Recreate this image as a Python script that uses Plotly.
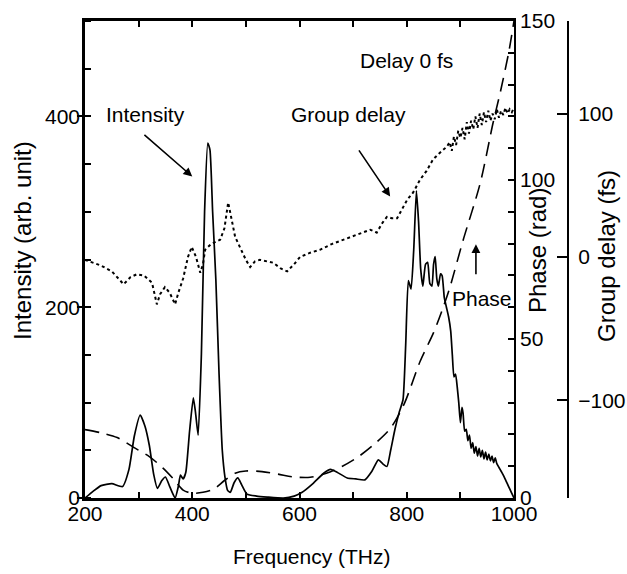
import plotly.graph_objects as go

# ---- data ----
int_freq = [200, 215, 230, 250, 270, 282, 292, 303, 312, 320, 328, 335, 343, 350, 358, 368,
            374, 378, 383, 388, 395, 402, 406, 411, 417, 423, 429, 433, 438, 444, 450, 456,
            461, 466, 471, 478, 485, 492, 502, 520, 540, 570, 590, 605, 625, 645, 658, 670,
            689, 705, 722, 735, 747, 755, 763, 770, 778, 786, 793, 798, 803, 808, 813, 818,
            822, 826, 830, 835, 839, 843, 847, 850, 853, 856, 859, 863, 866, 870, 874, 878,
            882, 885, 888, 891, 894, 897, 900, 903, 905, 908, 911, 914, 917, 920, 923, 926,
            929, 932, 935, 938, 941, 944, 947, 950, 953, 956, 959, 962, 965, 968, 972, 976,
            980, 985, 990, 995, 1000]
int_vals = [0, 7, 13, 15, 12, 30, 65, 87, 75, 55, 25, 10, 18, 22, 12, 0,
            12, 24, 20, 27, 70, 105, 90, 66, 150, 300, 372, 365, 300, 229, 130, 50,
            22, 8, 6, 16, 21, 14, 4, 2, 1, 0, 2, 6, 15, 26, 30, 27,
            21, 20, 19, 28, 40, 36, 33, 50, 72, 90, 103, 160, 228, 219, 260, 322,
            290, 240, 222, 245, 247, 225, 222, 245, 253, 230, 222, 235, 233, 210, 200, 190,
            175, 150, 127, 130, 117, 100, 79, 95, 89, 70, 72, 60, 66, 52, 58, 47,
            54, 44, 52, 43, 50, 41, 48, 40, 46, 39, 44, 37, 42, 36, 32, 28,
            24, 18, 12, 6, 0]

phase_freq = [200, 230, 260, 290, 320, 345, 365, 383, 400, 420, 440, 460, 480, 500, 530,
              560, 590, 620, 650, 680, 710, 740, 770, 795, 825, 850, 868, 880, 905, 937,
              961, 975, 990, 1000]
phase_vals = [21.5, 20.5, 19, 16, 13, 9.5, 6, 2.5, 1.5, 1.8, 2.8, 5.5, 7.8, 8.5, 8.3,
              7.5, 6.6, 6.5, 7.8, 10, 13, 17, 22, 29.5, 43, 52, 60, 66, 81, 99,
              118, 128, 140, 150]

gd_freq = [200, 215, 230, 250, 265, 272, 285, 297, 310, 325, 334, 340, 349, 358, 368, 374,
           383, 392, 399, 407, 415, 420, 424, 435, 452, 460, 467, 473, 480, 490, 500, 508,
           517, 526, 540, 551, 565, 577, 590, 601, 620, 638, 660, 689, 710, 732, 744, 755,
           763, 772, 782, 792, 801, 812, 825, 837, 849, 860, 875, 880, 884, 888, 892, 896,
           900, 904, 908, 912, 916, 920, 924, 928, 932, 936, 940, 944, 948, 952, 956, 960,
           964, 968, 972, 976, 980, 984, 988, 992, 996, 1000]
gd_vals = [-2, -4, -6, -10, -16, -19, -14, -12, -13, -18, -33, -26, -21, -25, -33, -25,
           -15, 0, 7, 0, -11, -5, 5, 9, 12, 20, 38, 28, 14, 6, -2, -7,
           -3, -2, -3, -4, -8, -10, -5, 0, 3, 5, 9, 13, 16, 19, 17, 24,
           28, 27, 27, 34, 40, 45, 54, 60, 68, 72, 77, 80, 74, 84, 78, 88,
           83, 90, 82, 94, 86, 95, 89, 98, 90, 100, 92, 101, 94, 102, 95, 100,
           96, 103, 97, 102, 99, 104, 100, 103, 101, 104]

x_ticks = [200, 400, 600, 800, 1000]
int_ticks = [0, 200, 400]
phase_ticks = [0, 50, 100, 150]
gd_ticks = [-100, 0, 100]

FONT = "Liberation Sans, Arial, Helvetica, sans-serif"
BLACK = "#000000"

fig = go.Figure()
fig.add_trace(go.Scatter(x=int_freq, y=int_vals, mode="lines", yaxis="y",
                         line=dict(color=BLACK, width=1.7, shape="spline", smoothing=0.5),
                         showlegend=False))
fig.add_trace(go.Scatter(x=phase_freq, y=phase_vals, mode="lines", yaxis="y2",
                         line=dict(color=BLACK, width=1.6, dash="14px,8px", shape="spline", smoothing=0.8),
                         showlegend=False))
fig.add_trace(go.Scatter(x=gd_freq, y=gd_vals, mode="lines", yaxis="y3",
                         line=dict(color=BLACK, width=2, dash="3px,3px"),
                         showlegend=False))

W, H = 627, 574
PL, PR, PT, PB = 85, 587, 21, 498          # plot paper box in window pixels
L, R, T, B = PL, W - PR, PT, H - PB
pw = PR - PL
ph = PB - PT
x_end = (514 - PL) / pw
gd_pos = (568 - PL) / pw

tickfont = dict(family=FONT, size=21, color=BLACK)

fig.update_layout(
    width=W, height=H, autosize=False,
    margin=dict(l=L, r=R, t=T, b=B, pad=0, autoexpand=False),
    paper_bgcolor="white", plot_bgcolor="white",
    font=dict(family=FONT, size=21, color=BLACK),
    xaxis=dict(domain=[0, x_end], range=[200, 1000], tickvals=x_ticks, automargin=False,
               ticks="inside", ticklen=6, tickwidth=1.5, tickcolor=BLACK,
               minor=dict(dtick=100, ticks="inside", ticklen=6, tickwidth=1.5, tickcolor=BLACK),
               showline=True, linecolor=BLACK, linewidth=2.5, mirror="ticks",
               showgrid=False, zeroline=False, tickfont=tickfont, ticklabelstandoff=-5),
    yaxis=dict(range=[0, 500], tickvals=int_ticks, automargin=False,
               ticks="outside", ticklen=5, tickwidth=1.5, tickcolor=BLACK,
               minor=dict(dtick=50, ticks="inside", ticklen=6, tickwidth=1.5, tickcolor=BLACK),
               showline=True, linecolor=BLACK, linewidth=2.5,
               showgrid=False, zeroline=False, tickfont=tickfont, ticklabelstandoff=-7),
    yaxis2=dict(overlaying="y", side="right", anchor="x", range=[0, 150], tickvals=phase_ticks,
                automargin=False,
                ticks="inside", ticklen=6, tickwidth=1.5, tickcolor=BLACK,
                minor=dict(dtick=10, ticks="inside", ticklen=6, tickwidth=1.5, tickcolor=BLACK),
                showline=True, linecolor=BLACK, linewidth=1.8,
                showgrid=False, zeroline=False, tickfont=tickfont),
    yaxis3=dict(overlaying="y", side="right", anchor="free", position=gd_pos,
                range=[-168, 164.5], tickvals=gd_ticks, automargin=False,
                ticks="inside", ticklen=10, tickwidth=1.5, tickcolor=BLACK,
                showline=True, linecolor=BLACK, linewidth=2,
                showgrid=False, zeroline=False, tickfont=tickfont, ticklabelstandoff=5),
)

def px2paper(px, py):
    return (px - PL) / pw, (PB - py) / ph

ann = []
# axis titles
for text, (px, py), ang in [("Intensity (arb. unit)", (22, 241), -90),
                            ("Phase (rad)", (538, 251), -90),
                            ("Group delay (fs)", (606, 256), -90),
                            ("Frequency (THz)", (312, 556), 0)]:
    xp, yp = px2paper(px, py)
    ann.append(dict(text=text, x=xp, y=yp, xref="paper", yref="paper", showarrow=False,
                    textangle=ang, xanchor="center", yanchor="middle",
                    font=dict(family=FONT, size=24 if ang else 21, color=BLACK)))

# in-plot labels (data coordinates of intensity axes)
for text, fx, iy in [("Intensity", 312, 402), ("Group delay", 692, 402),
                     ("Delay 0 fs", 799, 459), ("Phase", 941, 209)]:
    ann.append(dict(text=text, x=fx, y=iy, xref="x", yref="y", showarrow=False,
                    xanchor="center", yanchor="middle",
                    font=dict(family=FONT, size=21, color=BLACK)))

# arrows: (tail_f, tail_i, head_f, head_i)
for tf, ti, hf, hi in [(308, 382, 400, 337), (709, 366, 769, 316), (929, 233, 929, 266)]:
    ann.append(dict(text="", x=hf, y=hi, xref="x", yref="y", ax=tf, ay=ti,
                    axref="x", ayref="y", showarrow=True, arrowhead=2, arrowsize=1.1,
                    arrowwidth=1.6, arrowcolor=BLACK, standoff=0, startstandoff=0))

fig.update_layout(annotations=ann)

fig.write_html("out.html", config={"displayModeBar": False},
               post_script="document.body.style.margin='0';document.body.style.overflow='hidden';")
